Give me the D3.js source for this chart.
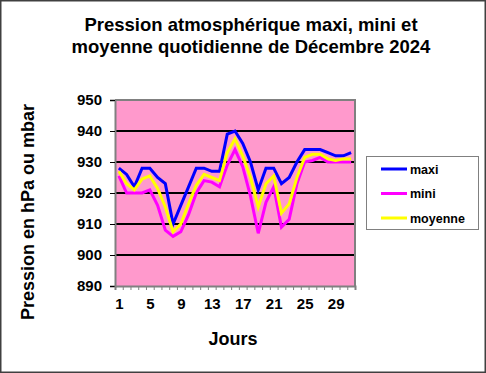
<!DOCTYPE html>
<html>
<head>
<meta charset="utf-8">
<script src="https://cdn.jsdelivr.net/npm/d3@7"></script>
<style>
  body { margin: 0; background: #fff; }
  text { font-family: "Liberation Sans", Arial, sans-serif; font-weight: bold; }
</style>
</head>
<body>
<div id="chart"></div>
<script>
// Chart data (December 2024, daily pressure in hPa)
const days = d3.range(1, 32);
const maxi = [928, 926, 922, 928, 928, 925, 923, 910, 916, 922, 928, 928, 927, 927, 939, 940,
              936, 930, 921, 928, 928, 923, 925, 930, 934, 934, 934, 933, 932, 932, 933];
const mini = [925.5, 920, 920, 920, 921, 916, 908, 906, 907.5, 913, 920, 924, 923.5, 922, 929, 934,
              928.5, 919, 907, 917, 922, 909, 911.5, 923, 930, 930.5, 931.5, 930, 930, 930, 930];
const moyenne = [927, 923, 921, 924.5, 925.5, 921.5, 915.5, 907.5, 910, 916.5, 922.5, 926, 925, 924, 933, 937.5,
                 932, 925, 915.5, 923, 925.5, 913.5, 916.5, 925, 931.5, 932.5, 932.5, 931, 930.5, 931, 931];
const yTicks = [890, 900, 910, 920, 930, 940, 950];
const xLabels = [1, 5, 9, 13, 17, 21, 25, 29];
const seriesNames = ["maxi", "mini", "moyenne"];
const seriesColors = ["#0000FF", "#FF00FF", "#FFFF00"];

const width = 486, height = 373;
const plot = {left: 115, right: 355, top: 100, bottom: 286};

let svg = d3.select("#chart")
    .append("svg")
    .attr("width", width)
    .attr("height", height);

// outer frame
svg.append("rect")
    .attr("x", 0.75).attr("y", 0.75)
    .attr("width", width - 1.5).attr("height", height - 1.5)
    .attr("fill", "#fff")
    .attr("stroke", "#404040")
    .attr("stroke-width", 1.5);

let x = d3.scaleLinear().domain([0.5, 31.5]).range([plot.left, plot.right]);
let y = d3.scaleLinear().domain([890, 950]).range([plot.bottom, plot.top]);

// plot background
svg.append("rect")
    .attr("x", plot.left).attr("y", plot.top)
    .attr("width", plot.right - plot.left)
    .attr("height", plot.bottom - plot.top)
    .attr("fill", "#FF99CC");

// horizontal gridlines
svg.append("g")
    .selectAll("line")
    .data(yTicks.filter(d => d > 890 && d < 950))
    .enter()
    .append("line")
    .attr("x1", plot.left).attr("x2", plot.right)
    .attr("y1", d => y(d)).attr("y2", d => y(d))
    .attr("stroke", "#000")
    .attr("stroke-width", 2);

// plot frame (top/right gray)
svg.append("path")
    .attr("d", `M${plot.left},${plot.top}H${plot.right}V${plot.bottom}`)
    .attr("fill", "none")
    .attr("stroke", "#808080")
    .attr("stroke-width", 2);

// y axis
let yAxis = svg.append("g")
    .attr("transform", `translate(${plot.left}, 0)`)
    .call(d3.axisLeft(y).tickValues(yTicks).tickSize(5).tickPadding(8));
yAxis.select(".domain").attr("stroke", "#808080").attr("stroke-width", 2);
yAxis.selectAll(".tick line").attr("stroke", "#000");
yAxis.selectAll("text")
    .style("font-size", "15px")
    .style("font-family", "'Liberation Sans', Arial, sans-serif")
    .style("font-weight", "bold")
    .attr("fill", "#000");

// x axis: tick marks between categories
let xTickAxis = svg.append("g")
    .attr("transform", `translate(0, ${plot.bottom})`)
    .call(d3.axisBottom(x).tickValues(d3.range(0.5, 32, 1)).tickSize(4).tickFormat(""));
xTickAxis.select(".domain").attr("stroke", "#808080").attr("stroke-width", 2);
xTickAxis.selectAll(".tick line").attr("stroke", "#808080");

// x axis labels
let xLabelAxis = svg.append("g")
    .attr("transform", `translate(0, ${plot.bottom})`)
    .call(d3.axisBottom(x).tickValues(xLabels).tickSize(0).tickPadding(12));
xLabelAxis.select(".domain").remove();
xLabelAxis.selectAll("text")
    .style("font-size", "15px")
    .style("font-family", "'Liberation Sans', Arial, sans-serif")
    .style("font-weight", "bold")
    .attr("fill", "#000");

// series lines (moyenne drawn last, on top)
let line = d3.line()
    .x((d, i) => x(days[i]))
    .y(d => y(d));

[maxi, mini, moyenne].forEach(function(values, i) {
    svg.append("path")
        .datum(values)
        .attr("d", line)
        .attr("fill", "none")
        .attr("stroke", seriesColors[i])
        .attr("stroke-width", 3)
        .attr("stroke-linejoin", "miter");
});

// title
let title = svg.append("text")
    .attr("text-anchor", "middle")
    .style("font-size", "18.5px");
title.append("tspan").attr("x", 251).attr("y", 31).text("Pression atmosphérique maxi, mini et");
title.append("tspan").attr("x", 251).attr("y", 53).text("moyenne quotidienne de Décembre 2024");

// x axis title
svg.append("text")
    .attr("x", 233).attr("y", 345)
    .attr("text-anchor", "middle")
    .style("font-size", "18px")
    .text("Jours");

// y axis title
svg.append("text")
    .attr("transform", `translate(34, ${212}) rotate(-90)`)
    .attr("text-anchor", "middle")
    .style("font-size", "18px")
    .text("Pression en hPa ou mbar");

// legend
let legend = svg.append("g");
legend.append("rect")
    .attr("x", 366.5).attr("y", 156.5)
    .attr("width", 112).attr("height", 73)
    .attr("fill", "#fff")
    .attr("stroke", "#808080")
    .attr("stroke-width", 1);

let items = legend.selectAll("g.item")
    .data(seriesNames)
    .enter()
    .append("g")
    .attr("class", "item")
    .attr("transform", (d, i) => `translate(0, ${169 + i * 24.5})`);
items.append("line")
    .attr("x1", 381).attr("x2", 407)
    .attr("y1", 0).attr("y2", 0)
    .attr("stroke", (d, i) => seriesColors[i])
    .attr("stroke-width", 3);
items.append("text")
    .attr("x", 410).attr("y", 4.5)
    .style("font-size", "12.5px")
    .text(d => d);
</script>
</body>
</html>
